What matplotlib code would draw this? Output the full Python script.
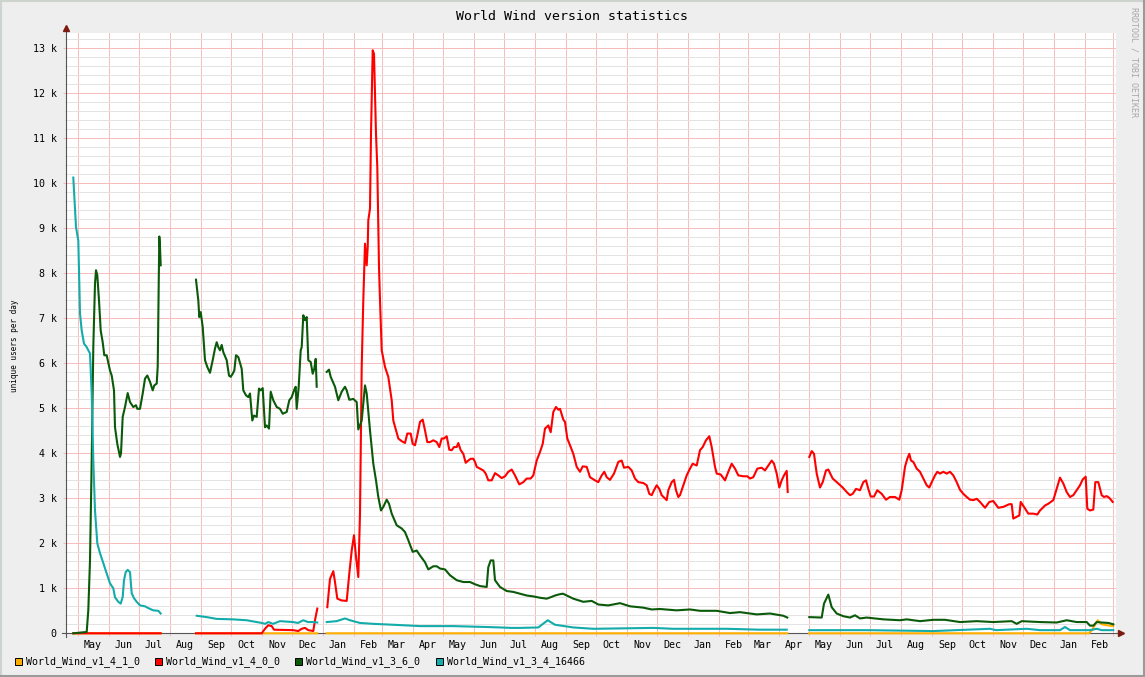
import numpy as np
import matplotlib
matplotlib.use("Agg")
import matplotlib.pyplot as plt
import matplotlib.dates as mdates
from matplotlib.ticker import MultipleLocator, FuncFormatter, NullFormatter
from matplotlib.patches import Rectangle
from matplotlib.lines import Line2D
from datetime import datetime

nan = np.nan
START = datetime(2006, 4, 19)
END_DAYS = 1050

title = "World Wind version statistics"
ylabel = "unique users per day"
watermark = "RRDTOOL / TOBI OETIKER"
names = ["World_Wind_v1_4_1_0", "World_Wind_v1_4_0_0",
         "World_Wind_v1_3_6_0", "World_Wind_v1_3_4_16466"]
colors = ["#FFAE00", "#FF0000", "#0A5A0A", "#14ABAB"]

# ---- series: days since start, daily unique users ----
orange_days = [7.3, 94.7, 112, 130, 251.3, 256, 260.7, 721.3, 731, 743.3, 1023, 1026, 1031.7, 1035.7, 1040.7, 1047.3]
orange_vals = [0, 0, nan, 0, 0, nan, 0, 0, nan, 0, 0, 70, 290, 200, 180, 160]

red_days = [7.3, 94.7, 112,
            130, 195.7, 199, 202.3, 205.7, 208, 227.3, 232.3, 235.7, 239, 242.3, 247.3, 249, 251.3, 256,
            261.3, 264, 267.3, 269, 271.3, 275.7, 280.7, 283.3, 285.7, 288, 290, 292.3, 294, 295.7, 297.3,
            299, 300.7, 301.7, 302.3, 304, 305, 306.7, 308, 310, 311.3, 313, 314, 315.7, 319, 322.3, 324,
            325.7, 327.3, 330, 332.3, 335.7, 339, 341.3, 344.7, 346.7, 349, 351.3, 354, 356.7, 359, 361.3,
            364, 367.3, 370.7, 373.3, 375.7, 378, 380.7, 383.3, 385.7, 388, 390.7, 392.3, 394.7, 397.3,
            399.7, 402.3, 404.7, 407.3, 409, 410.7, 414, 417.3, 419.7, 422.3, 425.7, 429, 432.3, 435.7,
            439, 442.3, 445.7, 449, 453.3, 457.3, 460.7, 464.7, 467.3, 470.7, 474, 476.7, 479, 482.3,
            484.7, 487.3, 490, 492.3, 494, 497.3, 499, 501.3, 504, 507.3, 510.7, 514, 516.7, 520.7, 524,
            529, 532.3, 535.7, 538.3, 540.7, 544, 548, 552.3, 555.7, 558, 562.3, 565.7, 569, 572.3, 577.3,
            580.7, 583.3, 585.7, 588, 590.7, 593.3, 595.7, 600.7, 602.3, 605.7, 608, 610, 612.3, 614,
            617.3, 620.7, 624, 626.7, 630.7, 634, 636.7, 640, 643.3, 645.7, 649, 650.7, 654.7, 659, 662.3,
            665.7, 669, 672.3, 677.3, 681.3, 684, 687.3, 691.3, 695.7, 699, 702.3, 705.7, 708, 710.7,
            713.3, 715.7, 718, 720.7, 721.7, 731,
            743.3, 745.7, 748, 750.7, 754, 756.7, 760, 762.3, 766.7, 772.3, 776.7, 780.7, 784, 786.7, 790,
            794, 797.3, 800, 802.3, 804.7, 808, 811.3, 815.7, 820, 824, 829, 833.3, 835.7, 839, 841.3,
            843.3, 845, 847.3, 850.7, 854, 857.3, 860.7, 863.3, 865.7, 869, 871.3, 874, 877.3, 880.7, 884,
            887.3, 890.7, 894, 897.3, 900.7, 904, 907.3, 910.7, 914, 919, 923.3, 927.3, 932.3, 937.3,
            943.3, 945.7, 947.3, 950.7, 953.3, 954.7, 958, 962.3, 967.3, 971.3, 974, 979, 982.3, 987.3,
            990.7, 994, 997.3, 1000.7, 1004, 1007.3, 1010.7, 1014, 1016.7, 1019.7, 1021.3, 1024, 1027.3,
            1029.3, 1032.3, 1035.7, 1038, 1040.7, 1043.3, 1046.7]
red_vals = [0, 0, nan,
            0, 0, 100, 180, 160, 80, 70, 50, 100, 120, 70, 50, 290, 550, nan,
            580, 1210, 1380, 1140, 770, 730, 720, 1330, 1840, 2180, 1700, 1250, 2660, 5920, 7400,
            8660, 8180, 8590, 9180, 9440, 11100, 12960, 12880, 11100, 10360, 8140, 7400, 6290, 5920, 5700, 5440,
            5180, 4730, 4510, 4330, 4270, 4230, 4440, 4440, 4210, 4180, 4400, 4700, 4750, 4510, 4250,
            4250, 4290, 4250, 4140, 4330, 4330, 4380, 4080, 4070, 4140, 4140, 4230, 4070, 3990,
            3790, 3840, 3880, 3880, 3810, 3700, 3660, 3620, 3550, 3400, 3400, 3560, 3510, 3450,
            3490, 3590, 3640, 3510, 3310, 3360, 3440, 3440, 3510, 3840, 4030, 4210, 4550, 4620,
            4470, 4920, 5030, 4970, 4990, 4750, 4700, 4330, 4180, 3990, 3700, 3590, 3710, 3700, 3470,
            3400, 3360, 3510, 3590, 3470, 3410, 3550, 3810, 3840, 3680, 3700, 3620, 3440, 3360, 3340,
            3290, 3100, 3070, 3180, 3290, 3210, 3070, 2960, 3180, 3360, 3410, 3180, 3030, 3070,
            3290, 3510, 3660, 3770, 3730, 4070, 4140, 4290, 4380, 4140, 3700, 3550, 3530, 3400, 3590,
            3770, 3660, 3510, 3490, 3490, 3440, 3470, 3660, 3680, 3620, 3730, 3840, 3770, 3550,
            3240, 3400, 3510, 3610, 3140, nan,
            3920, 4050, 3990, 3550, 3240, 3360, 3620, 3640, 3440, 3330, 3240, 3140, 3070, 3100, 3210,
            3180, 3360, 3400, 3210, 3040, 3040, 3180, 3100, 2970, 3030, 3030, 2970, 3180, 3700, 3880,
            3990, 3840, 3810, 3660, 3590, 3440, 3290, 3240, 3360, 3510, 3590, 3550, 3590, 3550, 3590,
            3510, 3360, 3190, 3100, 3030, 2970, 2960, 2990, 2920, 2790, 2920, 2940, 2790, 2810,
            2870, 2870, 2550, 2590, 2620, 2920, 2810, 2660, 2660, 2640, 2730, 2840, 2880, 2960,
            3210, 3460, 3330, 3140, 3030, 3070, 3180, 3290, 3420, 3480, 2770, 2730, 2750,
            3360, 3360, 3070, 3030, 3050, 3010, 2920]

green_days = [7.3, 20.7, 22.3, 24, 25.7, 27.3, 29, 30, 31.3, 33, 34.7, 36.7, 38.3, 40.7, 44, 45.7, 48, 49,
              51.3, 54, 55, 56.7, 59, 61.7, 64, 67.3, 70, 71.3, 74, 76.7, 79, 81.3, 84, 86.7, 88.3, 90.7,
              91.7, 92.7, 93.3, 94, 94.7, 112,
              130, 132.3, 133.3, 134.7, 136.7, 139, 141.3, 144, 146.7, 149, 150.7, 152.3, 154, 155.7, 157.3,
              160.7, 163, 164.7, 166.7, 168.3, 170, 172.3, 175.7, 177.3, 180, 182.3, 184, 186.3, 188, 190.7,
              193, 194.7, 196.7, 199, 200.7, 203, 204.7, 207.3, 210.7, 214, 216.7, 220.7, 223.3, 225.7, 228,
              229.7, 230.7, 232.7, 234.7, 235.7, 237.3, 239, 240.7, 242.3, 244.7, 246.7, 248.3, 249.7,
              250.7, 256,
              260.7, 263, 264.7, 269, 272.3, 275.7, 279, 280.7, 283.3, 287.3, 290.7, 292.3, 295.7, 299,
              300.7, 304, 307.3, 310, 312.3, 315, 317.3, 320.7, 323, 325.7, 330.7, 335.7, 339, 342.3, 346.7,
              350.7, 354, 359, 362.3, 367.3, 370.7, 374, 379, 384, 390.7, 397.3, 404, 409, 414, 420.7, 422.3,
              424.7, 427.3, 429, 434, 440.7, 447.3, 454, 460.7, 467.3, 474, 480.7, 485.7, 489, 494, 497,
              507.3, 517.3, 525.7, 532.3, 542.3, 554, 564, 577.3, 585.7, 594, 610.7, 624, 634, 650.7, 664,
              674, 690.7, 704, 717.3, 721.3, 731,
              743.3, 755.7, 758, 762.3, 765.7, 770.7, 777.3, 784, 789, 794, 800.7, 817.3, 834, 840.7, 854,
              867.3, 879, 894, 910.7, 927.3, 945.7, 950.7, 955.7, 974, 990.7, 1000.7, 1010.7, 1020.7, 1024,
              1027.3, 1030.7, 1035.7, 1042.3, 1047.3]
green_vals = [0, 30, 510, 1620, 3840, 6360, 7770, 8070, 7960, 7400, 6730, 6470, 6180, 6180, 5840, 5730, 5400, 4580,
              4210, 3920, 4000, 4810, 5030, 5340, 5140, 5030, 5070, 4990, 4990, 5330, 5660, 5730, 5590, 5400, 5510, 5550,
              5920, 7700, 8820, 8590, 8180, nan,
              7860, 7400, 7030, 7140, 6810, 6070, 5920, 5790, 6070, 6330, 6470, 6360, 6290, 6410, 6250,
              6070, 5730, 5700, 5770, 5840, 6180, 6140, 5880, 5400, 5290, 5250, 5330, 4730, 4840, 4810,
              5440, 5400, 5450, 4580, 4620, 4550, 5370, 5180, 5030, 4990, 4880, 4920, 5180, 5250, 5400,
              5480, 4990, 5480, 6290, 6360, 7070, 6960, 7030, 6070, 6030, 5770, 5880, 6100,
              5480, nan,
              5810, 5860, 5700, 5480, 5180, 5370, 5480, 5400, 5190, 5210, 5140, 4530, 4730, 5510,
              5330, 4510, 3770, 3400, 3030, 2730, 2810, 2970, 2880, 2660, 2400, 2330, 2250, 2070, 1810,
              1840, 1730, 1580, 1420, 1490, 1490, 1440, 1420, 1290, 1180, 1140, 1140, 1090, 1050, 1030, 1470,
              1620, 1620, 1180, 1030, 940, 920, 880, 840, 820, 790, 770, 810, 840, 870, 880,
              770, 700, 720, 640, 620, 670, 600, 570, 530, 540, 510, 530, 500, 500, 450,
              470, 420, 440, 390, 350, nan,
              360, 350, 660, 860, 580, 440, 380, 350, 400, 330, 350, 310, 290, 310, 270,
              300, 300, 250, 270, 250, 270, 210, 270, 250, 240, 290, 250, 250, 170,
              170, 250, 240, 230, 200]

teal_days = [7.3, 10, 12.3, 14, 15.7, 18, 20.7, 22.3, 24, 25.7, 27.3, 29, 31.3, 34, 37.3, 40.7, 44, 47.3, 49,
             52.3, 54.7, 56.7, 58, 59.7, 61.7, 64, 65.7, 68, 70.7, 74, 79, 82.3, 87.3, 92.3, 94.7, 112,
             130.7, 140.7, 150.7, 167, 180.7, 190.7, 195.7, 199, 202.3, 207, 214, 227, 232, 237.3, 242, 247,
             251.3, 256,
             260.7, 270.7, 279, 284, 294, 307.3, 327.3, 354, 387.3, 420.7, 434, 445.7, 454, 472.3, 481.7,
             489, 507.3, 527.3, 587.3, 607.3, 660.7, 694, 720.7, 731,
             743.3, 800.7, 867.3, 924, 930, 960.7, 974, 994, 999, 1004, 1024, 1030.7, 1035.7, 1047.3]
teal_vals = [10130, 9030, 8730, 7110, 6730, 6440, 6360, 6290, 6220, 5330, 3840, 2730, 2000, 1780, 1560, 1330, 1110, 1000, 800,
             700, 660, 810, 1180, 1360, 1410, 1360, 890, 780, 700, 620, 600, 560, 510, 500, 440, nan,
             390, 360, 320, 310, 290, 250, 230, 210, 250, 210, 270, 250, 230, 290, 250, 250,
             240, nan,
             250, 270, 330, 290, 230, 210, 190, 160, 160, 140, 130, 120, 120, 130, 290,
             190, 130, 100, 120, 100, 100, 80, 80, nan,
             70, 70, 50, 100, 70, 100, 70, 70, 140, 70, 70, 100, 70, 70]

series = [(orange_days, orange_vals), (red_days, red_vals),
          (green_days, green_vals), (teal_days, teal_vals)]

# ---- figure ----
W, H = 1145, 677
fig = plt.figure(figsize=(W / 100, H / 100), dpi=100)
fig.patch.set_facecolor("#EEEEEE")

def fx(x):
    return x / W

def fy(y):
    return 1 - y / H

ax_left, ax_right, ax_top, ax_bot = 66, 1116, 32.7, 633.3
ax = fig.add_axes([fx(ax_left), fy(ax_bot), (ax_right - ax_left) / W, (ax_bot - ax_top) / H])
ax.set_facecolor("white")
for s in ax.spines.values():
    s.set_visible(False)

t0 = mdates.date2num(START)
for (d, v), c in zip(series, colors):
    ax.plot(t0 + np.asarray(d, float), np.asarray(v, float), color=c, lw=1.5,
            solid_joinstyle="round", zorder=3, clip_on=False)

ax.set_xlim(t0, t0 + END_DAYS)
ax.set_ylim(0, 13350)

mono = "DejaVu Sans Mono"
ax.xaxis.set_major_locator(mdates.MonthLocator())
ax.xaxis.set_major_formatter(NullFormatter())
ax.xaxis.set_minor_locator(mdates.MonthLocator(bymonthday=16))
ax.xaxis.set_minor_formatter(mdates.DateFormatter("%b"))
ax.yaxis.set_major_locator(MultipleLocator(1000))
ax.yaxis.set_minor_locator(MultipleLocator(200))
ax.yaxis.set_major_formatter(FuncFormatter(lambda v, p: "0" if v == 0 else f"{int(round(v / 1000))} k"))

grid_minor = "#E3E3E3"
grid_major = "#F7BABA"
ax.set_axisbelow(True)
ax.yaxis.grid(True, which="minor", color=grid_minor, lw=0.7)
ax.yaxis.grid(True, which="major", color=grid_major, lw=0.7)
ax.xaxis.grid(True, which="major", color=grid_major, lw=0.7)
ax.xaxis.grid(False, which="minor")

ax.tick_params(axis="x", which="major", length=2.5, width=0.7, color=grid_major, direction="out")
ax.tick_params(axis="x", which="minor", length=0, pad=4.5, labelsize=7.2)
ax.tick_params(axis="y", which="major", length=2.5, width=0.7, color=grid_major, direction="out",
               pad=4.3, labelsize=7.2)
ax.tick_params(axis="y", which="minor", length=1.5, width=0.7, color=grid_minor, direction="out")
for lab in ax.get_xticklabels(which="both") + ax.get_yticklabels():
    lab.set_fontfamily(mono)

# axis lines with arrows
axis_col = "#555555"
arrow_col = "#7F1A10"
hpx = ax_bot - ax_top
wpx = ax_right - ax_left
ax.plot([0, 0], [-4 / hpx, 1 + 3 / hpx], transform=ax.transAxes, color=axis_col, lw=0.8,
        clip_on=False, zorder=2)
ax.plot([-4 / wpx, 1 + 3 / wpx], [0, 0], transform=ax.transAxes, color=axis_col, lw=0.8,
        clip_on=False, zorder=2)
ax.plot([0], [1 + 5 / hpx], marker="^", ms=4, color=arrow_col, transform=ax.transAxes,
        clip_on=False, zorder=4)
ax.plot([1 + 5 / wpx], [0], marker=">", ms=4, color=arrow_col, transform=ax.transAxes,
        clip_on=False, zorder=4)

# texts
fig.text(0.5, fy(16), title, ha="center", va="center", family=mono, fontsize=9.5, color="#000000")
fig.text(fx(15), fy(346), ylabel, ha="center", va="center", rotation=90, family=mono, fontsize=5.6)
fig.text(fx(1134), fy(62), watermark, ha="center", va="center", rotation=270, family=mono,
         fontsize=6, color="#A8A8A8")

# legend
leg_x = [15, 155, 295, 436]
for lx, name, c in zip(leg_x, names, colors):
    fig.patches.append(Rectangle((fx(lx), fy(665)), 7 / W, 7 / H, transform=fig.transFigure,
                                 facecolor=c, edgecolor="black", lw=0.7))
    fig.text(fx(lx + 11), fy(661.5), name, ha="left", va="center", family=mono, fontsize=7.2)

# frame borders
fig.lines.append(Line2D([0, 1], [fy(0.5), fy(0.5)], transform=fig.transFigure, color="#CDD3CD", lw=1.5))
fig.lines.append(Line2D([fx(0.5), fx(0.5)], [0, 1], transform=fig.transFigure, color="#CDD3CD", lw=1.5))
fig.lines.append(Line2D([fx(W - 1.5), fx(W - 1.5)], [0, 1], transform=fig.transFigure, color="#9A9A9A", lw=2.2))
fig.lines.append(Line2D([0, 1], [fy(H - 1.5), fy(H - 1.5)], transform=fig.transFigure, color="#9A9A9A", lw=2.2))

fig.savefig("out.png", dpi=100, facecolor=fig.get_facecolor())
